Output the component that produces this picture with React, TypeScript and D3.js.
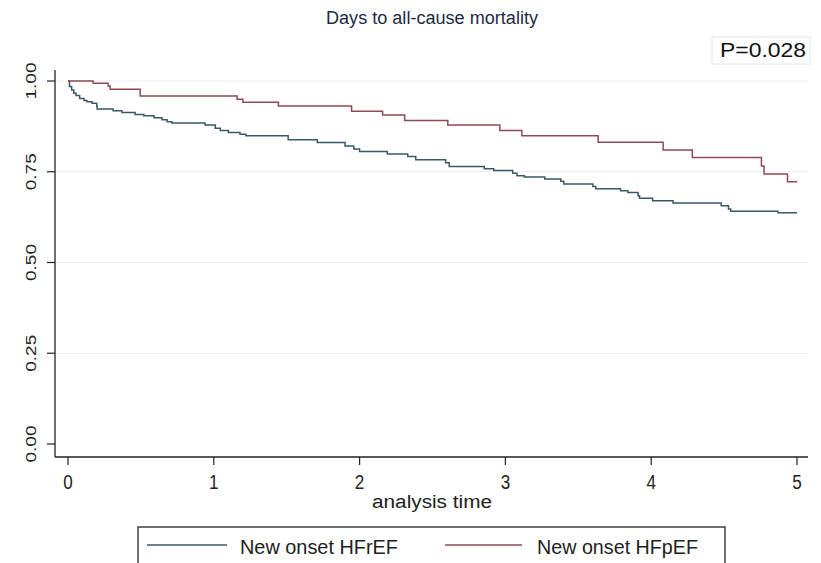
import React from "react";
import * as d3 from "d3";

const W = 821;
const H = 563;

const title = "Days to all-cause mortality";
const pValueLabel = "P=0.028";
const xAxisTitle = "analysis time";
const xTicks = [0, 1, 2, 3, 4, 5];
const yTicks = [0, 0.25, 0.5, 0.75, 1];
const yTickLabels = ["0.00", "0.25", "0.50", "0.75", "1.00"];
const seriesNames = ["New onset HFrEF", "New onset HFpEF"];

const hfrefTime = [
  0, 0.01, 0.025, 0.04, 0.055, 0.08, 0.11, 0.13, 0.165, 0.197, 0.2, 0.31, 0.37,
  0.46, 0.52, 0.59, 0.645, 0.68, 0.713, 0.94, 1.01, 1.045, 1.1, 1.18, 1.22,
  1.51, 1.71, 1.9, 1.96, 2.0, 2.19, 2.33, 2.385, 2.59, 2.615, 2.855, 2.92,
  3.05, 3.08, 3.13, 3.27, 3.38, 3.4, 3.6, 3.62, 3.79, 3.84, 3.91, 3.92, 4.01,
  4.15, 4.48, 4.53, 4.545, 4.87, 5.0,
];
const hfrefSurv = [
  1.0, 0.985, 0.975, 0.966, 0.96, 0.952, 0.946, 0.943, 0.939, 0.931, 0.923,
  0.918, 0.913, 0.908, 0.904, 0.899, 0.893, 0.888, 0.884, 0.879, 0.87, 0.8635,
  0.858, 0.8535, 0.849, 0.838, 0.8305, 0.821, 0.813, 0.806, 0.799, 0.792,
  0.783, 0.775, 0.7645, 0.758, 0.7536, 0.746, 0.739, 0.7355, 0.73, 0.7235,
  0.716, 0.7097, 0.703, 0.698, 0.693, 0.684, 0.677, 0.67, 0.664, 0.6566,
  0.6475, 0.641, 0.637, 0.637,
];

const hfpefTime = [
  0, 0.172, 0.275, 0.289, 0.495, 1.16, 1.2, 1.443, 1.945, 2.158, 2.309, 2.605,
  2.962, 3.113, 3.636, 4.082, 4.282, 4.756, 4.774, 4.935, 5.0,
];
const hfpefSurv = [
  1.0, 0.9937, 0.9863, 0.977, 0.9588, 0.9497, 0.9415, 0.9313, 0.9168, 0.9066,
  0.891, 0.879, 0.8635, 0.849, 0.8316, 0.81, 0.789, 0.766, 0.744, 0.7225,
  0.7225,
];

const colors = ["#3a5866", "#8e4a52"];
const FONT = "'Liberation Sans', Arial, Helvetica, sans-serif";

export default function App() {
  const x = d3.scaleLinear().domain([0, 5]).range([68, 797]);
  const y = d3.scaleLinear().domain([0, 1]).range([444, 81]);

  const line = d3
    .line<[number, number]>()
    .x((d) => x(d[0]))
    .y((d) => y(d[1]))
    .curve(d3.curveStepAfter);

  const series = [
    hfrefTime.map((t, i) => [t, hfrefSurv[i]] as [number, number]),
    hfpefTime.map((t, i) => [t, hfpefSurv[i]] as [number, number]),
  ];

  const axisY = 457;
  const axisX = 55;

  return (
    <svg
      width={W}
      height={H}
      style={{ position: "absolute", left: 0, top: 0, background: "#fff" }}
      fontFamily={FONT}
    >
      <rect x={0} y={0} width={W} height={H} fill="#ffffff" />
      <text
        x={432}
        y={24}
        textAnchor="middle"
        fontSize={18}
        fill="#1c2a48"
        textLength={212}
        lengthAdjust="spacingAndGlyphs"
      >
        {title}
      </text>

      {/* P value box */}
      <rect x={712} y={37} width={98} height={27} fill="#fff" stroke="#e6e6e6" strokeWidth={1} />
      <text
        x={720}
        y={57}
        fontSize={20}
        fill="#111"
        textLength={86}
        lengthAdjust="spacingAndGlyphs"
      >
        {pValueLabel}
      </text>

      {/* grid lines */}
      {yTicks
        .filter((v) => v > 0)
        .map((v) => (
          <line key={"g" + v} x1={axisX} x2={808} y1={y(v)} y2={y(v)} stroke="#ececec" strokeWidth={1} />
        ))}

      {/* curves */}
      {series.map((s, i) => (
        <path key={i} d={line(s) || ""} fill="none" stroke={colors[i]} strokeWidth={1.5} />
      ))}

      {/* axes */}
      <line x1={axisX} x2={axisX} y1={70} y2={axisY} stroke="#222" strokeWidth={1.3} />
      <line x1={axisX} x2={808} y1={axisY} y2={axisY} stroke="#222" strokeWidth={1.3} />

      {yTicks.map((v, i) => (
        <g key={"yt" + v}>
          <line x1={47} x2={axisX} y1={y(v)} y2={y(v)} stroke="#222" strokeWidth={1.2} />
          <text
            transform={`translate(36,${y(v)}) rotate(-90)`}
            textAnchor="middle"
            fontSize={15}
            fill="#222"
            textLength={37}
            lengthAdjust="spacingAndGlyphs"
          >
            {yTickLabels[i]}
          </text>
        </g>
      ))}

      {xTicks.map((v) => (
        <g key={"xt" + v}>
          <line x1={x(v)} x2={x(v)} y1={axisY} y2={465} stroke="#222" strokeWidth={1.2} />
          <text
            x={x(v)}
            y={489}
            textAnchor="middle"
            fontSize={20}
            fill="#222"
            textLength={9.5}
            lengthAdjust="spacingAndGlyphs"
          >
            {String(v)}
          </text>
        </g>
      ))}

      <text
        x={432}
        y={508}
        textAnchor="middle"
        fontSize={18}
        fill="#222"
        textLength={120}
        lengthAdjust="spacingAndGlyphs"
      >
        {xAxisTitle}
      </text>

      {/* legend */}
      <rect x={138} y={527} width={587} height={50} fill="#fff" stroke="#333" strokeWidth={1.4} />
      <line x1={147} x2={227} y1={545} y2={545} stroke={colors[0]} strokeWidth={1.5} />
      <text x={240} y={554} fontSize={21} fill="#222" textLength={158} lengthAdjust="spacingAndGlyphs">
        {seriesNames[0]}
      </text>
      <line x1={445} x2={522} y1={545} y2={545} stroke={colors[1]} strokeWidth={1.5} />
      <text x={537} y={554} fontSize={21} fill="#222" textLength={161} lengthAdjust="spacingAndGlyphs">
        {seriesNames[1]}
      </text>
    </svg>
  );
}
